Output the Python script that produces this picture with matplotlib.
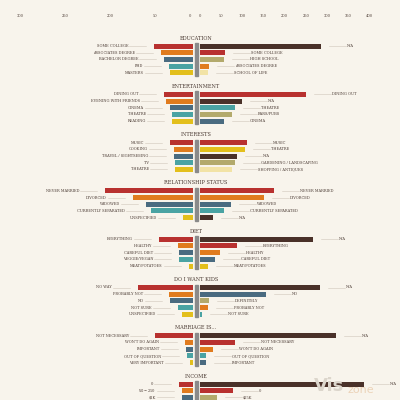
import matplotlib
matplotlib.use("Agg")
import matplotlib.pyplot as plt

titles = ["EDUCATION", "ENTERTAINMENT", "INTERESTS", "RELATIONSHIP STATUS", "DIET",
          "DO I WANT KIDS", "MARRIAGE IS...", "INCOME"]
left_labels = [
    ["SOME COLLEGE", "ASSOCIATES DEGREE", "BACHELOR DEGREE", "PHD", "MASTERS"],
    ["DINING OUT", "EVENING WITH FRIENDS", "CINEMA", "THEATRE", "READING"],
    ["MUSIC", "COOKING", "TRAVEL / SIGHTSEEING", "TV", "THEATRE"],
    ["NEVER MARRIED", "DIVORCED", "WIDOWED", "CURRENTLY SEPARATED", "UNSPECIFIED"],
    ["EVERYTHING", "HEALTHY", "CAREFUL DIET", "VEGGIE/VEGAN", "MEAT/POTATOES"],
    ["NO WAY", "PROBABLY NOT", "NO", "NOT SURE", "UNSPECIFIED"],
    ["NOT NECESSARY", "WON'T DO AGAIN", "IMPORTANT", "OUT OF QUESTION", "VERY IMPORTANT"],
    ["0", "$50-$250", "$1K"],
]
left_values = [
    [67, 55, 50, 42, 40],
    [50, 47, 40, 36, 36],
    [40, 33, 33, 31, 31],
    [152, 104, 81, 73, 17],
    [59, 26, 24, 24, 7],
    [95, 42, 40, 26, 19],
    [66, 14, 12, 10, 5],
    [24, 19, 19],
]
right_labels = [
    ["N/A", "SOME COLLEGE", "HIGH SCHOOL", "ASSOCIATES DEGREE", "SCHOOL OF LIFE"],
    ["DINING OUT", "N/A", "THEATRE", "BARS/PUBS", "CINEMA"],
    ["MUSIC", "THEATRE", "N/A", "GARDENING / LANDSCAPING", "SHOPPING / ANTIQUES"],
    ["NEVER MARRIED", "DIVORCED", "WIDOWED", "CURRENTLY SEPARATED", "N/A"],
    ["N/A", "EVERYTHING", "HEALTHY", "CAREFUL DIET", "MEAT/POTATOES"],
    ["N/A", "NO", "DEFINITELY", "PROBABLY NOT", "NOT SURE"],
    ["N/A", "NOT NECESSARY", "WON'T DO AGAIN", "OUT OF QUESTION", "IMPORTANT"],
    ["N/A", "0", "$25K"],
]
right_values = [
    [286, 59, 57, 21, 19],
    [250, 99, 83, 76, 57],
    [111, 106, 87, 83, 76],
    [175, 151, 73, 57, 31],
    [267, 87, 47, 35, 19],
    [284, 156, 21, 19, 5],
    [322, 83, 31, 14, 14],
    [388, 78, 40],
]

RED, ORA, SLA, TEA, YEL = "#b8312f", "#e07b1e", "#4a6b80", "#4aa3a3", "#e3bf1c"
BRO, KHA, PAL = "#4a3129", "#b3aa6c", "#f2e3a6"
left_colors = [RED, ORA, SLA, TEA, YEL]
right_colors = [
    [BRO, RED, KHA, ORA, PAL],
    [RED, BRO, TEA, KHA, SLA],
    [RED, YEL, BRO, KHA, PAL],
    [RED, ORA, SLA, TEA, BRO],
    [BRO, RED, ORA, SLA, YEL],
    [BRO, SLA, KHA, ORA, TEA],
    [BRO, RED, ORA, TEA, SLA],
    [BRO, RED, KHA],
]

BG = "#f8f4ec"
TXT = "#4a3a33"
LS = 0.577  # px per unit on left
RS = 0.423  # px per unit on right

fig = plt.figure(figsize=(4, 4), dpi=100, facecolor=BG)
fig.text(0.785, 0.012, "Vis", fontsize=13, fontweight="bold", color="#dcd6cc",
         va="bottom", zorder=0)
fig.text(0.87, 0.012, "zone", fontsize=8, color="#ecd3b8", va="bottom", zorder=0)
axL = fig.add_axes([0, 0, 193 / 400, 1])
axR = fig.add_axes([200 / 400, 0, 200 / 400, 1])
for ax in (axL, axR):
    ax.set_facecolor("none")
    ax.set_ylim(400, 0)
    for s in ax.spines.values():
        s.set_visible(False)
    ax.set_xticks([]); ax.set_yticks([])
axL.set_xlim(193 / LS, 0)
axR.set_xlim(0, 200 / RS)

fs = 2.6
for g, title in enumerate(titles):
    y0 = 46 + g * 48.3
    fig.text(196 / 400, 1 - (y0 - 8) / 400, title, ha="center", va="center",
             fontsize=3.6, family="DejaVu Serif", color=TXT)
    n = len(left_values[g])
    ys = [y0 + i * 6.7 for i in range(n)]
    for i, y in enumerate(ys):
        lv = left_values[g][i]
        axL.barh(y, lv, height=5, color=left_colors[i], edgecolor="none")
        xe = lv + 8 / LS
        xt = lv + 25 / LS
        axL.plot([xe, xt], [y, y], color="#cfc6bb", lw=0.4)
        axL.text(xt + 1 / LS, y, left_labels[g][i], ha="right", va="center",
                 fontsize=fs, family="DejaVu Serif", color=TXT)
        rv = right_values[g][i]
        axR.barh(y, rv, height=5, color=right_colors[g][i], edgecolor="none")
        xe = rv + 8 / RS
        xt = rv + 25 / RS
        axR.plot([xe, xt], [y, y], color="#cfc6bb", lw=0.4)
        axR.text(xt + 1 / RS, y, right_labels[g][i], ha="left", va="center",
                 fontsize=fs, family="DejaVu Serif", color=TXT)
    fig.add_artist(plt.Rectangle((195 / 400, 1 - (ys[-1] + 3) / 400), 2.5 / 400,
                                 (ys[-1] - ys[0] + 6) / 400, color="#8a8a8a",
                                 transform=fig.transFigure))

for v in [0, 50, 100, 150, 200, 250, 300, 350, 400]:
    axR.text(v, 16, str(v), ha="center", va="center", fontsize=2.6,
             family="DejaVu Serif", color=TXT)
for px, lab in [(20, "300"), (65, "250"), (110, "200"), (155, "50"), (190, "0")]:
    axL.text((193 - px) / LS, 16, lab, ha="center", va="center", fontsize=2.6,
             family="DejaVu Serif", color=TXT)

fig.savefig("out.png", dpi=100, facecolor=BG)
